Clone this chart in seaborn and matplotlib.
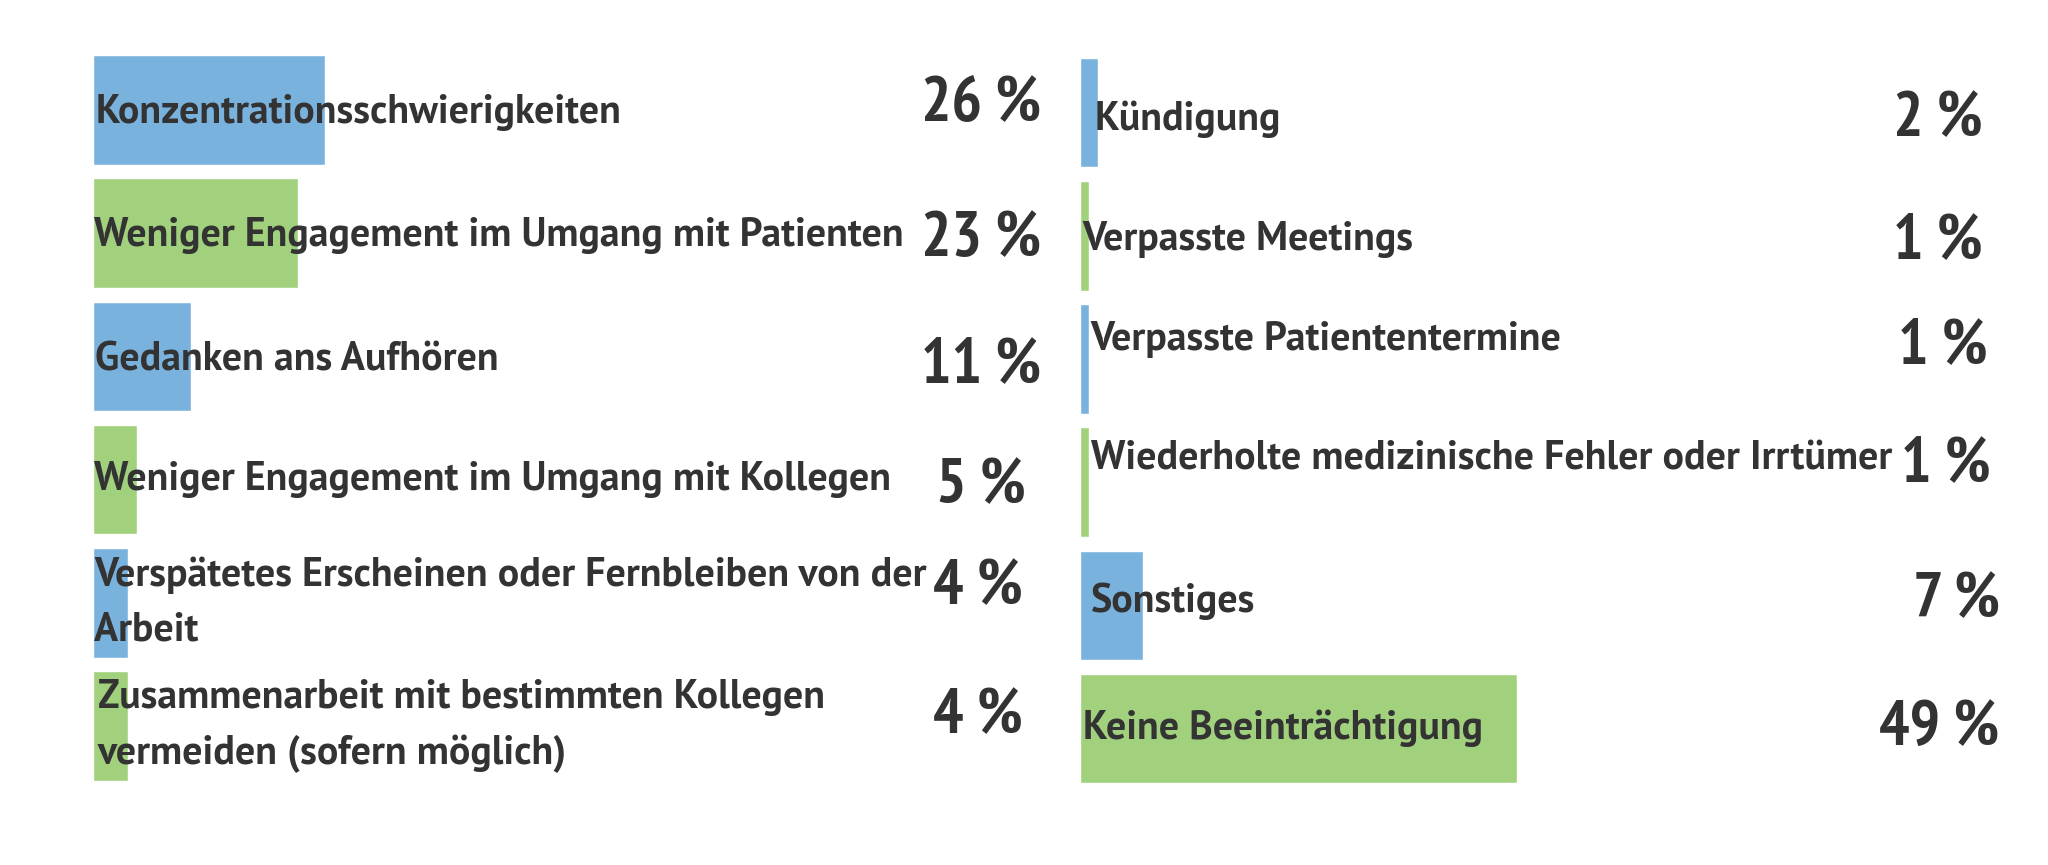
import matplotlib
matplotlib.use("Agg")
import matplotlib.pyplot as plt
import seaborn as sns
import pandas as pd

# left column
left_labels = [
    "Konzentrationsschwierigkeiten",
    "Weniger Engagement im Umgang mit Patienten",
    "Gedanken ans Aufhören",
    "Weniger Engagement im Umgang mit Kollegen",
    "Verspätetes Erscheinen oder Fernbleiben von der\nArbeit",
    "Zusammenarbeit mit bestimmten Kollegen\nvermeiden (sofern möglich)",
]
left_values = [26, 23, 11, 5, 4, 4]

# right column
right_labels = [
    "Kündigung",
    "Verpasste Meetings",
    "Verpasste Patiententermine",
    "Wiederholte medizinische Fehler oder Irrtümer",
    "Sonstiges",
    "Keine Beeinträchtigung",
]
right_values = [2, 1, 1, 1, 7, 49]

# hand placement tweaks, measured on a 1568 px wide copy of the layout
left_lab_dx = [2, 1, 2, 1, 1, 4]
left_lab_dy = [2, 2, 3, 0, 0, 0]
left_pct_x = [797, 797, 797, 785, 783, 783]
left_pct_dy = [-4, 5, 7, 6, -11, -7]
right_lab_dx = [11, 2, 8, 8, 8, 2]
right_lab_dy = [5, 3, -15, -18, -3, 0]
right_pct_x = [1518, 1518, 1522, 1524, 1531, 1531]
right_pct_dy = [6, 5, -9, -13, -3, 0]

BLUE = "#7AB2DE"
GREEN = "#A2D17E"
TEXT = "#333333"

sns.set_style("white")
plt.rcParams['font.family'] = ['PT Sans', 'Open Sans Condensed', 'DejaVu Sans']
PCT_FONT = ['PT Sans Narrow', 'PT Sans', 'DejaVu Sans']

REF_W, REF_H = 1568, 662   # layout units
PX_PER_PCT = 6.83
ROW_PX = 94.3


def draw_panel(fig, left_px, width_px, top_px, labels, values,
               lab_dx, lab_dy, pct_x, pct_dy):
    ax = fig.add_axes([left_px / REF_W, (REF_H - top_px - 6 * ROW_PX) / REF_H,
                       width_px / REF_W, 6 * ROW_PX / REF_H])
    df = pd.DataFrame({"label": labels, "value": values})
    colors = [BLUE if i % 2 == 0 else GREEN for i in range(len(df))]
    sns.barplot(data=df, x="value", y="label", hue="label", palette=colors,
                legend=False, width=0.89, ax=ax, saturation=1)
    ax.set_xlim(0, width_px / PX_PER_PCT)
    ax.set_ylim(len(df) - 0.5, -0.5)
    ax.axis("off")
    for i, (lab, val) in enumerate(zip(labels, values)):
        ax.text(lab_dx[i] / PX_PER_PCT, i + lab_dy[i] / ROW_PX, lab,
                ha="left", va="center", fontsize=28.7, color=TEXT,
                fontweight="bold", linespacing=1.6)
        ax.text((pct_x[i] - left_px) / PX_PER_PCT, i + pct_dy[i] / ROW_PX,
                f"{val} %", ha="right", va="center", fontsize=46,
                color=TEXT, fontweight="bold", family=PCT_FONT)
    return ax


def main():
    fig = plt.figure(figsize=(20.48, 8.65), dpi=100)
    draw_panel(fig, 71, 740, 37, left_labels, left_values,
               left_lab_dx, left_lab_dy, left_pct_x, left_pct_dy)
    draw_panel(fig, 827, 720, 39, right_labels, right_values,
               right_lab_dx, right_lab_dy, right_pct_x, right_pct_dy)
    fig.savefig("out.png", dpi=100, facecolor="white")


if __name__ == "__main__":
    main()
